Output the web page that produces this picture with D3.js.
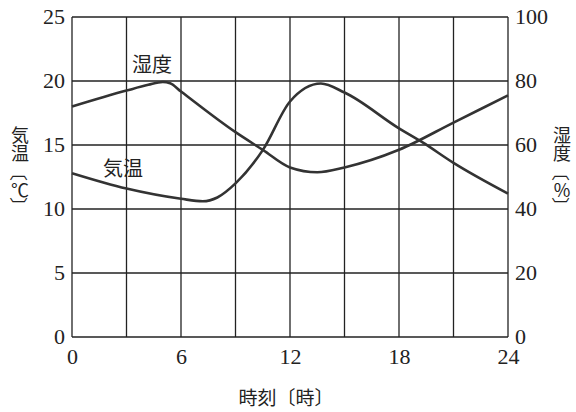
<!DOCTYPE html>
<html>
<head>
<meta charset="utf-8">
<script src="https://cdn.jsdelivr.net/npm/d3@7"></script>
<style>
  body { margin: 0; background: #fff; }
</style>
</head>
<body>
<div id="chart"></div>
<script>
// hours and readings
var tempHours = [0, 3, 6, 7.2, 8, 9, 10.5, 12, 13.7, 15, 18, 19.3, 21, 24];
var tempValues = [12.8, 11.6, 10.8, 10.6, 10.9, 12.0, 14.6, 18.4, 19.8, 19.1, 16.3, 15.2, 13.6, 11.2];
var humHours = [0, 3, 4.2, 5, 5.4, 6, 9, 10.5, 12, 13.5, 15, 18, 21, 24];
var humValues = [72, 77, 78.8, 79.7, 79.3, 76.7, 64, 58.5, 53, 51.5, 53, 58.5, 67, 75.5];

var xTicks = [0, 6, 12, 18, 24];
var xGrid = [0, 3, 6, 9, 12, 15, 18, 21, 24];
var leftTicks = [0, 5, 10, 15, 20, 25];
var rightTicks = [0, 20, 40, 60, 80, 100];

// vertical axis titles: word, unit (brackets get turned)
var leftTitle = ["気温", "℃"];
var rightTitle = ["湿度", "%"];

var numFont = "Liberation Serif";
var jpFont = "Noto Sans CJK JP";

// set the dimensions and margins of the graph
var margin = { top: 17, right: 68, bottom: 75, left: 72 },
  width = 576 - margin.left - margin.right,
  height = 412 - margin.top - margin.bottom;

var svg = d3.select("#chart")
  .append("svg")
  .attr("width", 576)
  .attr("height", 412)
  .append("g")
  .attr("transform", "translate(" + margin.left + "," + margin.top + ")");

var x = d3.scaleLinear().domain([0, 24]).range([0, width]);
var yT = d3.scaleLinear().domain([0, 25]).range([height, 0]);
var yH = d3.scaleLinear().domain([0, 100]).range([height, 0]);

// grid
svg.append("g")
  .selectAll("line")
  .data(xGrid)
  .enter()
  .append("line")
  .attr("x1", function(d) { return x(d); })
  .attr("x2", function(d) { return x(d); })
  .attr("y1", 0)
  .attr("y2", height)
  .attr("stroke", "#222")
  .attr("stroke-width", 1.3);
svg.append("g")
  .selectAll("line")
  .data(leftTicks)
  .enter()
  .append("line")
  .attr("x1", 0)
  .attr("x2", width)
  .attr("y1", function(d) { return yT(d); })
  .attr("y2", function(d) { return yT(d); })
  .attr("stroke", "#222")
  .attr("stroke-width", 1.3);

// axes (labels only, grid does the lines)
var left = svg.append("g").call(d3.axisLeft(yT).tickValues(leftTicks).tickSize(0).tickPadding(7));
var right = svg.append("g").attr("transform", "translate(" + width + ",0)")
  .call(d3.axisRight(yH).tickValues(rightTicks).tickSize(0).tickPadding(7));
var bottom = svg.append("g").attr("transform", "translate(0," + height + ")")
  .call(d3.axisBottom(x).tickValues(xTicks).tickSize(0).tickPadding(10));
[left, right, bottom].forEach(function(a) {
  a.select(".domain").remove();
  a.selectAll("text")
    .attr("fill", "#222")
    .style("font-family", numFont)
    .style("font-size", "22px");
});
left.selectAll("text").attr("dy", "0.3em");
right.selectAll("text").attr("dy", "0.3em");
bottom.selectAll("text").attr("dy", "0.78em");

// lines
var tempData = tempHours.map(function(h, i) { return { h: h, v: tempValues[i] }; });
var humData = humHours.map(function(h, i) { return { h: h, v: humValues[i] }; });

svg.append("path")
  .datum(humData)
  .attr("fill", "none")
  .attr("stroke", "#333")
  .attr("stroke-width", 2.6)
  .attr("d", d3.line()
    .curve(d3.curveMonotoneX)
    .x(function(d) { return x(d.h); })
    .y(function(d) { return yH(d.v); }));

svg.append("path")
  .datum(tempData)
  .attr("fill", "none")
  .attr("stroke", "#333")
  .attr("stroke-width", 2.6)
  .attr("d", d3.line()
    .curve(d3.curveMonotoneX)
    .x(function(d) { return x(d.h); })
    .y(function(d) { return yT(d.v); }));

// series labels
svg.append("text")
  .style("font-family", jpFont).style("font-size", "20px").attr("fill", "#222")
  .attr("x", 132 - margin.left).attr("y", 72 - margin.top)
  .text("湿度");
svg.append("text")
  .style("font-family", jpFont).style("font-size", "20px").attr("fill", "#222")
  .attr("x", 103 - margin.left).attr("y", 176 - margin.top)
  .text("気温");

// axis titles
svg.append("text")
  .style("font-family", jpFont).style("font-size", "19px").attr("fill", "#222")
  .attr("text-anchor", "middle")
  .attr("x", 286 - margin.left)
  .attr("y", 405 - margin.top)
  .text("時刻〔時〕");

// stacked titles: word as one vertical text, then turned brackets round the unit
var rowY = [172, 189, 206];
function glyph(g, s, cx, cy, turn) {
  var t = g.append("text")
    .style("font-family", jpFont)
    .style("font-size", "18px")
    .attr("fill", "#222")
    .attr("text-anchor", "middle")
    .attr("dominant-baseline", "central")
    .attr("x", cx - margin.left)
    .attr("y", cy - margin.top)
    .text(s);
  if (turn) t.attr("transform", "rotate(90," + (cx - margin.left) + "," + (cy - margin.top) + ")");
  return t;
}
function stackTitle(parts, cx) {
  var g = svg.append("g");
  g.append("text")
    .style("font-family", jpFont)
    .style("font-size", "18px")
    .style("writing-mode", "vertical-rl")
    .style("text-orientation", "upright")
    .attr("fill", "#222")
    .attr("x", cx - margin.left)
    .attr("y", 126 - margin.top)
    .text(parts[0]);
  glyph(g, "〔", cx, rowY[0], true);
  glyph(g, parts[1], cx, rowY[1], false);
  glyph(g, "〕", cx, rowY[2], true);
}
stackTitle(leftTitle, 20);
stackTitle(rightTitle, 562);
</script>
</body>
</html>
